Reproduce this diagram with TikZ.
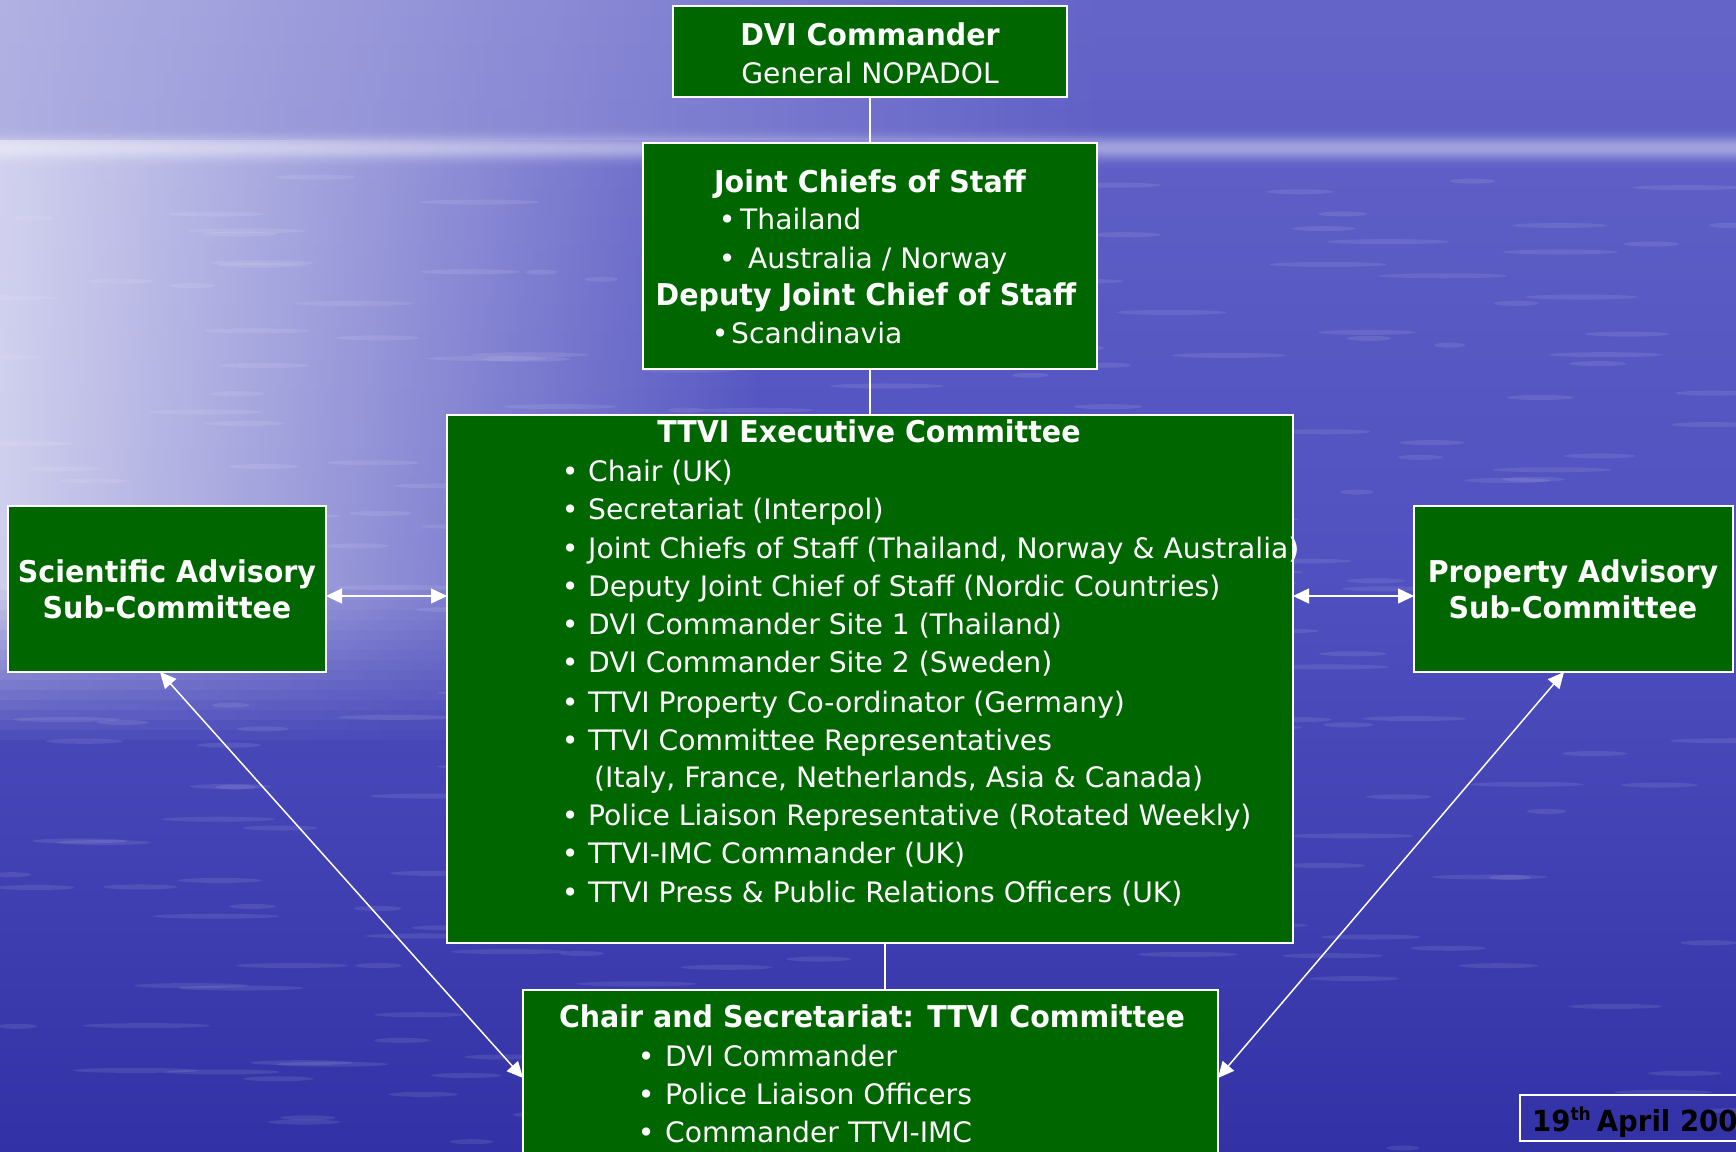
\documentclass[tikz,border=0pt]{standalone}
\usepackage{fontspec}
\setmainfont{DejaVu Sans}
\newfontfamily\bdf[FakeStretch=0.95]{DejaVu Sans}
\usetikzlibrary{arrows.meta,fadings}
\definecolor{boxgreen}{RGB}{0,102,0}
\definecolor{bgtop}{RGB}{100,100,200}
\definecolor{bgmid}{RGB}{80,80,192}
\definecolor{bgbot}{RGB}{50,50,166}
\newcommand{\bul}{\makebox[0pt]{\textbullet}}
\begin{document}
\begin{tikzpicture}[x=1pt,y=-1pt,
  box/.style={draw=white, line width=2pt, fill=boxgreen, inner sep=0pt, outer sep=0pt, anchor=north west},
  conn/.style={draw=white, line width=1.5pt},
  biarrow/.style={conn, {Triangle[length=16pt,width=15pt]}-{Triangle[length=16pt,width=15pt]}},
  bt/.style={font=\bdf\bfseries\fontsize{30}{36}\selectfont, text=white, inner sep=0pt, anchor=base},
  rt/.style={font=\fontsize{28.2}{34}\selectfont, text=white, inner sep=0pt, anchor=base west},
  rtc/.style={rt, anchor=base},
]
\useasboundingbox (0,0) rectangle (1736,1151);
% background: sea and sky
\shade[top color=bgtop, bottom color=bgbot, middle color=bgmid] (0,0) rectangle (1736,1151);
\foreach \y in {0,10,...,730} {
  \pgfmathsetmacro\op{\y<140 ? 0.5 : (\y<580 ? 0.72 : 0.72*(740-\y)/160)}
  \pgfmathsetmacro\w{\y<140 ? 1100 : 760}
  \fill[white, path fading=east, opacity=\op] (0,\y) rectangle (\w,\y+10);
}
\foreach \y in {116,118,...,180} {
  \pgfmathsetmacro\op{0.42*exp(-((\y+1-148)/11)*((\y+1-148)/11))}
  \fill[white, opacity=\op] (0,\y) rectangle (1736,\y+2);
}
\pgfmathsetseed{7}
\foreach \i in {1,...,260} {
  \pgfmathsetmacro\xx{rnd*1736}
  \pgfmathsetmacro\yy{170+rnd*980}
  \pgfmathsetmacro\ll{15+rnd*50}
  \fill[white, opacity=0.09] (\xx,\yy) ellipse [x radius=\ll pt, y radius=2.5pt];
}

% boxes
\node[box, minimum width=394pt, minimum height=91pt] (dvi) at (673,6) {};
\node[box, minimum width=454pt, minimum height=226pt] (jcs) at (643,143) {};
\node[box, minimum width=846pt, minimum height=528pt] (ttvi) at (447,415) {};
\node[box, minimum width=318pt, minimum height=166pt] (sci) at (8,506) {};
\node[box, minimum width=319pt, minimum height=166pt] (prop) at (1414,506) {};
\node[box, minimum width=695pt, minimum height=200pt] (bot) at (523,990) {};
\node[draw=white, line width=2pt, inner sep=0pt, outer sep=0pt, anchor=north west,
      minimum width=260pt, minimum height=46pt] (date) at (1520,1095) {};

% connectors
\coordinate (mx) at (885,0);
\coordinate (ay) at (0,596);
\coordinate (by) at (0,1078);
\coordinate (sx) at (160,0);
\coordinate (px) at (1564,0);
\draw[conn] (dvi) -- (jcs);
\draw[conn] (jcs) -- (ttvi);
\draw[conn] (ttvi.south -| mx) -- (bot.north -| mx);
\draw[biarrow] (sci.east |- ay) -- (ttvi.west |- ay);
\draw[biarrow] (ttvi.east |- ay) -- (prop.west |- ay);
\draw[biarrow] (sci.south -| sx) -- (bot.west |- by);
\draw[biarrow] (prop.south -| px) -- (bot.east |- by);

% DVI commander
\node[bt] (t1) at (870,45) {DVI Commander};
\node[rtc] (t2) at (870,83) {General NOPADOL};

% Joint chiefs
\node[bt] (j1) at (870,192) {Joint Chiefs of Staff};
\node[rt] (j2) at (727,229) {\bul\hspace{13pt}Thailand};
\node[rt] (j3) at (727,268) {\bul\hspace{21pt}Australia / Norway};
\node[bt] (j4) at (866,305) {Deputy Joint Chief of Staff};
\node[rt] (j5) at (720,343) {\bul\hspace{11pt}Scandinavia};

% TTVI executive
\node[bt] (e0) at (869,442) {TTVI Executive Committee};
\node[rt] (e1) at (570,481) {\bul\hspace{18pt}Chair (UK)};
\node[rt] (e2) at (570,519) {\bul\hspace{18pt}Secretariat (Interpol)};
\node[rt] (e3) at (570,558) {\bul\hspace{18pt}Joint Chiefs of Staff (Thailand, Norway \& Australia)};
\node[rt] (e4) at (570,596) {\bul\hspace{18pt}Deputy Joint Chief of Staff (Nordic Countries)};
\node[rt] (e5) at (570,634) {\bul\hspace{18pt}DVI Commander Site 1 (Thailand)};
\node[rt] (e6) at (570,672) {\bul\hspace{18pt}DVI Commander Site 2 (Sweden)};
\node[rt] (e7) at (570,712) {\bul\hspace{18pt}TTVI Property Co-ordinator (Germany)};
\node[rt] (e8) at (570,750) {\bul\hspace{18pt}TTVI Committee Representatives};
\node[rt] (e9) at (594,787) {(Italy, France, Netherlands, Asia \& Canada)};
\node[rt] (e10) at (570,825) {\bul\hspace{18pt}Police Liaison Representative (Rotated Weekly)};
\node[rt] (e11) at (570,863) {\bul\hspace{18pt}TTVI-IMC Commander (UK)};
\node[rt] (e12) at (570,902) {\bul\hspace{18pt}TTVI Press \& Public Relations Officers (UK)};

% side boxes
\node[bt] (s1) at (167,582) {Scientific Advisory};
\node[bt] (s2) at (167,618) {Sub-Committee};
\node[bt] (p1) at (1573,582) {Property Advisory};
\node[bt] (p2) at (1573,618) {Sub-Committee};

% bottom box
\node[bt] (b0) at (872,1027) {Chair and Secretariat: TTVI Committee};
\node[rt] (b1) at (646,1066) {\bul\hspace{19pt}DVI Commander};
\node[rt] (b2) at (646,1104) {\bul\hspace{19pt}Police Liaison Officers};
\node[rt] (b3) at (646,1142) {\bul\hspace{19pt}Commander TTVI-IMC};

% date
\node[font=\bdf\bfseries\fontsize{29}{34}\selectfont, text=black, inner sep=0pt, anchor=base west] (dt) at (1532,1131)
  {19\raisebox{11pt}{\fontsize{18}{20}\selectfont th}\hspace{6pt}April 200};
\end{tikzpicture}
\end{document}
